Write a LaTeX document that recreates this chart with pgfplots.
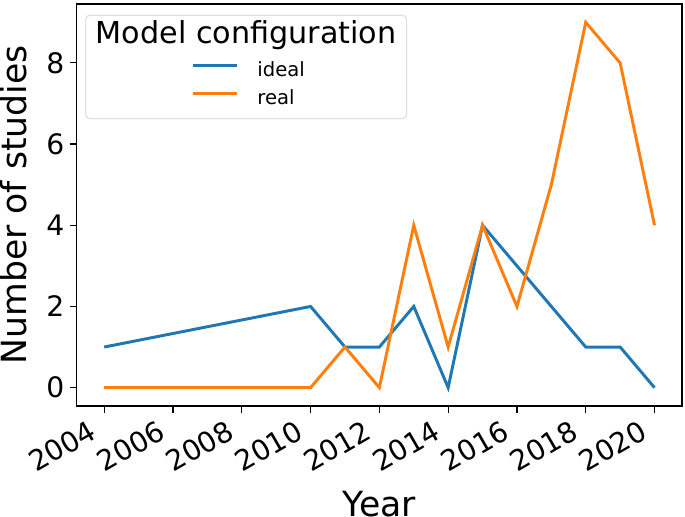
\documentclass[border=0pt]{standalone}
\usepackage{fontspec}
\setmainfont{DejaVu Sans}
\usepackage{pgfplots}
\pgfplotsset{compat=1.18}
\definecolor{tabblue}{HTML}{1F77B4}
\definecolor{taborange}{HTML}{FF7F0E}
\begin{document}
\begin{tikzpicture}
\begin{axis}[
  scale only axis,
  width=450.75pt, height=299.25pt,
  xmin=2003.2, xmax=2020.8,
  ymin=-0.45, ymax=9.45,
  xtick={2004,2006,...,2020},
  ytick={0,2,4,6,8},
  /pgf/number format/1000 sep={},
  /pgf/number format/assume math mode=true,
  tick label style={font=\fontsize{21}{25}\selectfont},
  xticklabel={\rotatebox{30}{\pgfmathprintnumber[fixed,1000 sep={}]{\tick}}},
  xticklabel style={anchor=north east, inner xsep=4pt, inner ysep=4.5pt},
  yticklabel style={inner xsep=4pt},
  xlabel={Year},
  ylabel={Number of studies},
  every axis x label/.style={at={(rel axis cs:0.5,0)}, anchor=base,
    yshift=-82.5pt, inner sep=0pt, text depth=0pt,
    font=\fontsize{25.8}{30}\selectfont},
  every axis y label/.style={at={(rel axis cs:0,0.5)}, anchor=base,
    xshift=-37.5pt, rotate=90, inner sep=0pt,
    font=\fontsize{25.8}{30}\selectfont},
  tick align=outside, tick pos=left,
  major tick length=5pt,
  axis line style={line width=0.9pt},
  every tick/.style={black, line width=0.9pt},
  legend style={at={(rel axis cs:0.189,0.7985)}, anchor=west,
    draw=none, fill=none, inner sep=0pt,
    font=\fontsize{14.6}{17}\selectfont,
    nodes={inner sep=0pt, text height=11pt, text depth=3pt},
    row sep=7pt, column sep=14pt},
  legend cell align=left,
  legend image code/.code={\draw[#1] (0pt,4pt) -- (33pt,4pt);},
]
\draw[gray!25, line width=0.8pt, rounded corners=3pt, fill=white]
  (rel axis cs:0.0149,0.972) rectangle (rel axis cs:0.545,0.715);
\node[font=\fontsize{22.5}{27}\selectfont, anchor=base]
  at (rel axis cs:0.280,0.902) {Model configuration};
\addplot[tabblue, line width=2.2pt] coordinates {
  (2004,1)(2010,2)(2011,1)(2012,1)(2013,2)(2014,0)(2015,4)(2016,3)(2017,2)(2018,1)(2019,1)(2020,0)
};
\addlegendentry{ideal}
\addplot[taborange, line width=2.2pt] coordinates {
  (2004,0)(2010,0)(2011,1)(2012,0)(2013,4)(2014,1)(2015,4)(2016,2)(2017,5)(2018,9)(2019,8)(2020,4)
};
\addlegendentry{real}
\end{axis}
\path (current axis.north east) ++(2.2pt,3pt);
\end{tikzpicture}
\end{document}
